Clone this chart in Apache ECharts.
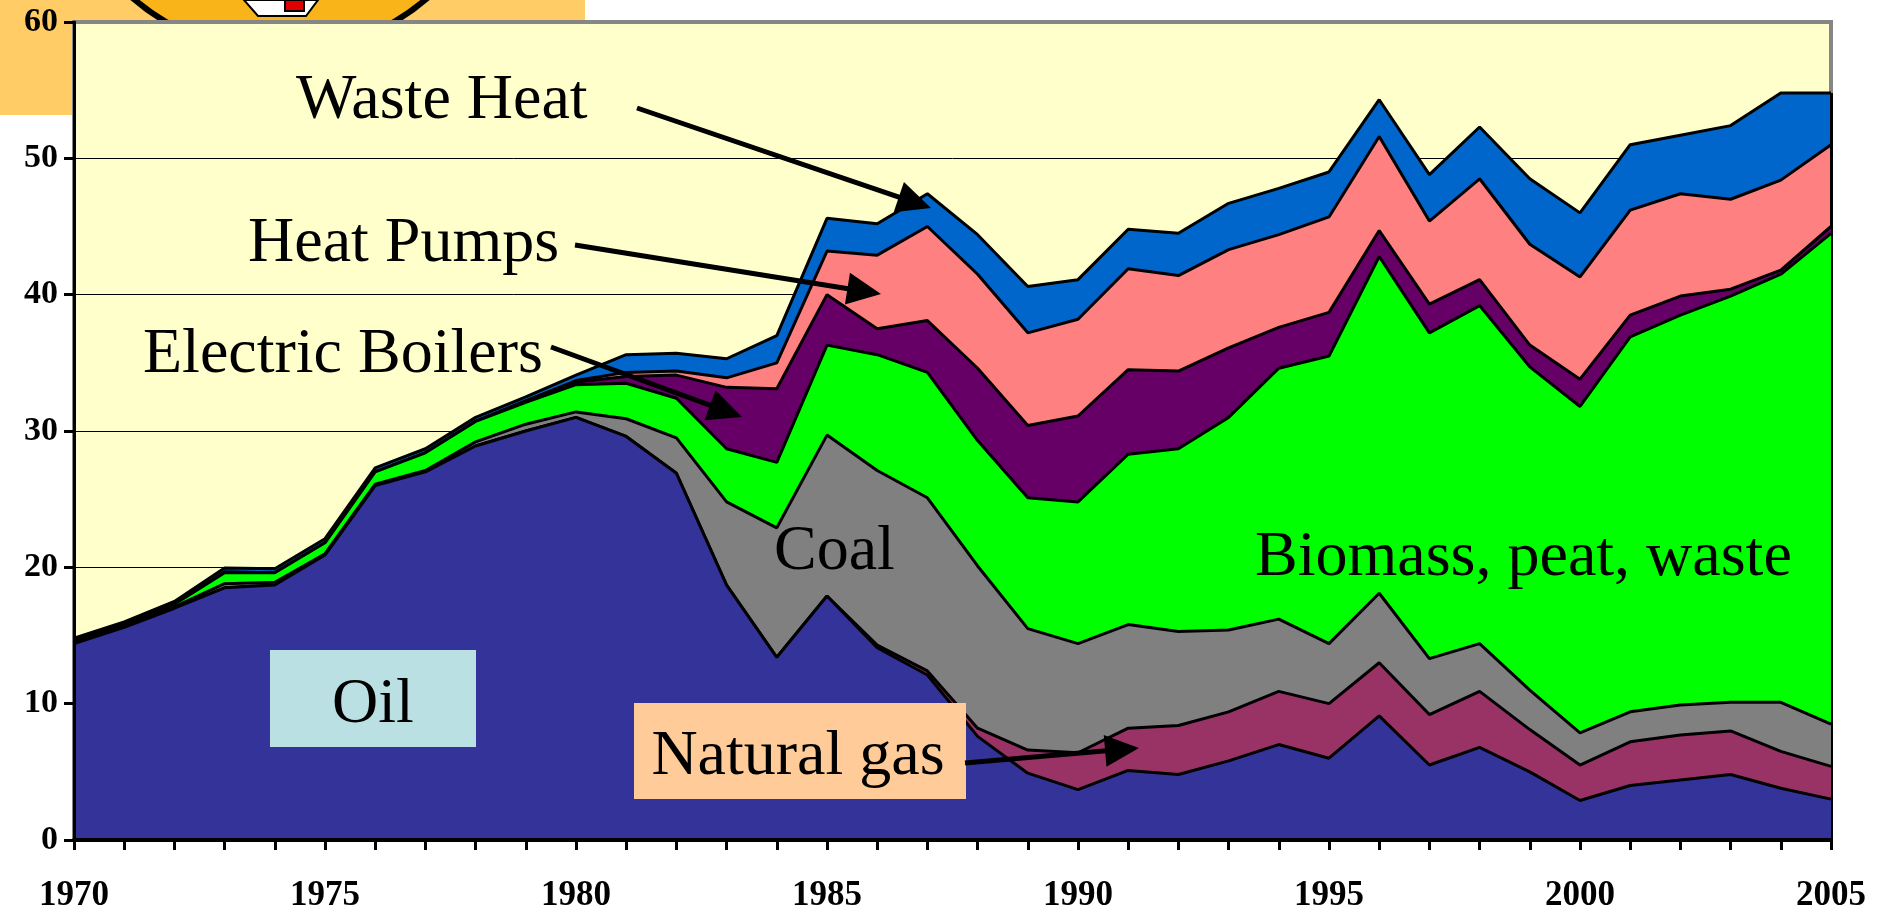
<!DOCTYPE html>
<html lang="en">
<head>
<meta charset="UTF-8">
<title>Heat supply by source 1970-2005</title>
<script src="https://cdn.jsdelivr.net/npm/echarts@6/dist/echarts.min.js"></script>
<style>
    html, body { margin: 0; padding: 0; background: #fff; }
    #chart { width: 1883px; height: 912px; }
</style>
</head>
<body>
<div id="chart"></div>
<script>
// categories
var years = ['1970','1971','1972','1973','1974','1975','1976','1977','1978','1979',
             '1980','1981','1982','1983','1984','1985','1986','1987','1988','1989',
             '1990','1991','1992','1993','1994','1995','1996','1997','1998','1999',
             '2000','2001','2002','2003','2004','2005'];

// series values (stacked, bottom to top)
var oil       = [14.4,15.6,17.0,18.5,18.7,20.9,26.0,27.0,28.9,30.0,31.0,29.6,26.9,18.7,13.4,17.9,14.1,12.1,7.6,4.9,3.7,5.1,4.8,5.8,7.0,6.0,9.1,5.5,6.8,5.0,2.9,4.0,4.4,4.8,3.8,3.0];
var naturalGas= [0,0,0,0,0,0,0,0,0,0,0,0,0,0,0,0,0.2,0.3,0.6,1.7,2.7,3.1,3.6,3.6,3.9,4.0,3.9,3.7,4.1,3.1,2.6,3.2,3.3,3.2,2.7,2.4];
var coal      = [0.1,0.1,0.1,0.3,0.2,0.1,0.1,0.1,0.3,0.5,0.4,1.3,2.6,6.1,9.5,11.8,12.8,12.7,11.9,8.9,8.0,7.6,6.9,6.0,5.3,4.4,5.1,4.1,3.5,2.9,2.35,2.2,2.2,2.1,3.6,3.1];
var biomass   = [0.1,0.1,0.2,0.8,0.7,0.8,0.9,1.3,1.5,1.6,2.0,2.6,2.9,3.9,4.8,6.6,8.5,9.2,9.2,9.6,10.4,12.5,13.4,15.6,18.4,21.1,24.7,23.9,24.8,23.7,23.95,27.5,28.6,29.8,31.4,36.0];
var elBoilers = [0,0,0,0.05,0,0,0,0,0,0.1,0.2,0.5,1.7,4.5,5.4,3.7,1.9,3.8,5.3,5.3,6.3,6.2,5.7,5.1,3.0,3.2,1.9,2.1,1.9,1.6,2.0,1.6,1.4,0.5,0.3,0.5];
var heatPumps = [0,0,0,0,0,0,0,0,0,0,0.1,0.3,0.3,0.7,1.9,3.2,5.4,6.9,6.9,6.8,7.1,7.4,7.0,7.2,6.8,7.0,6.9,6.1,7.4,7.4,7.5,7.7,7.5,6.6,6.6,6.0];
var wasteHeat = [0.2,0.2,0.2,0.3,0.3,0.3,0.3,0.3,0.3,0.3,0.4,1.3,1.3,1.4,2.0,2.4,2.3,2.4,2.9,3.4,2.9,2.9,3.1,3.4,3.4,3.3,2.7,3.4,3.8,4.8,4.7,4.8,4.3,5.4,6.4,3.8];

var seriesList = [
    {name: 'Oil', data: oil, color: '#333399'},
    {name: 'Natural gas', data: naturalGas, color: '#993366'},
    {name: 'Coal', data: coal, color: '#808080'},
    {name: 'Biomass, peat, waste', data: biomass, color: '#00FF00'},
    {name: 'Electric Boilers', data: elBoilers, color: '#660066'},
    {name: 'Heat Pumps', data: heatPumps, color: '#FF8080'},
    {name: 'Waste Heat', data: wasteHeat, color: '#0066CC'}
];

var serif = '"Liberation Serif", "Times New Roman", serif';

function arrow(x1, y1, x2, y2) {
    var dx = x2 - x1, dy = y2 - y1, len = Math.sqrt(dx * dx + dy * dy);
    var ux = dx / len, uy = dy / len, hl = 34, hw = 16;
    var bx = x2 - ux * hl, by = y2 - uy * hl;
    return [
        {type: 'line', z: 100, shape: {x1: x1, y1: y1, x2: bx + ux * 4, y2: by + uy * 4},
         style: {stroke: '#000', lineWidth: 5}},
        {type: 'polygon', z: 100,
         shape: {points: [[x2, y2], [bx - uy * hw, by + ux * hw], [bx + uy * hw, by - ux * hw]]},
         style: {fill: '#000'}}
    ];
}

function label(text, x, y, align) {
    return {type: 'text', z: 100,
        style: {text: text, x: x, y: y, font: '64px ' + serif, fill: '#000',
                align: align || 'left', verticalAlign: 'middle',
                textAlign: align || 'left', textVerticalAlign: 'middle'}};
}

window.onload = function () {
    var chart = echarts.init(document.getElementById('chart'));

    var last = years.length - 1;
    var total2005 = 0;
    seriesList.forEach(function (s) { total2005 += s.data[last]; });

    var series = seriesList.map(function (s, i) {
        var item = {
            name: s.name,
            type: 'line',
            stack: 'all',
            data: s.data,
            z: 9 - i,
            symbol: 'none',
            smooth: false,
            lineStyle: {color: '#000', width: 3},
            areaStyle: {color: s.color, opacity: 1},
            itemStyle: {color: s.color}
        };
        if (i === 0) {
            item.markLine = {
                silent: true, symbol: 'none', animation: false,
                label: {show: false},
                lineStyle: {color: '#000', width: 3, type: 'solid'},
                data: [[{coord: [years[last], 0]}, {coord: [years[last], total2005]}]]
            };
        }
        return item;
    });

    var graphics = [
        // clip-art header behind the plot
        {type: 'rect', z: -20, shape: {x: 0, y: 0, width: 585, height: 115}, style: {fill: '#FFCC66'}},
        {type: 'circle', z: -19, shape: {cx: 280, cy: -172, r: 225},
         style: {fill: '#F8B418', stroke: '#000', lineWidth: 6}},
        {type: 'polygon', z: -18, shape: {points: [[244, 0], [318, 0], [306, 16], [258, 16]]},
         style: {fill: '#fff', stroke: '#000', lineWidth: 2}},
        {type: 'rect', z: -17, shape: {x: 285, y: 0, width: 19, height: 11}, style: {fill: '#E00000', stroke: '#000', lineWidth: 2}},
        // boxed labels
        {type: 'rect', z: 90, shape: {x: 270, y: 650, width: 206, height: 97}, style: {fill: '#BBE0E3'}},
        {type: 'rect', z: 90, shape: {x: 634, y: 703, width: 332, height: 96}, style: {fill: '#FFCC99'}},
        label('Oil', 373, 705, 'center'),
        label('Natural gas', 798, 757, 'center'),
        label('Waste Heat', 296, 101),
        label('Heat Pumps', 248, 244),
        label('Electric Boilers', 143, 355),
        label('Coal', 774, 552),
        label('Biomass, peat, waste', 1255, 558)
    ];
    graphics = graphics.concat(arrow(637, 108, 931, 208), arrow(575, 245, 881, 294),
        arrow(551, 347, 742, 417), arrow(965, 763, 1139, 748));

    var options = {
        animation: false,
        backgroundColor: '#fff',
        grid: {
            left: 74, right: 52, top: 22, bottom: 72,
            show: true, backgroundColor: '#FFFFCC',
            borderColor: '#868686', borderWidth: 4,
            outerBoundsMode: 'none', containLabel: false
        },
        xAxis: {
            type: 'category',
            data: years,
            boundaryGap: false,
            z: 10,
            axisLine: {show: true, lineStyle: {color: '#000', width: 4}},
            axisTick: {show: true, interval: 0, length: 10, inside: false, lineStyle: {color: '#000', width: 3}},
            axisLabel: {interval: 4, margin: 38, color: '#000', fontFamily: serif, fontWeight: 'bold', fontSize: 35},
            splitLine: {show: false}
        },
        yAxis: [{
            type: 'value', min: 0, max: 60, interval: 10,
            z: 10,
            axisLine: {show: true, lineStyle: {color: '#000', width: 3}},
            axisTick: {show: true, length: 10, inside: false, lineStyle: {color: '#000', width: 3}},
            axisLabel: {margin: 16, color: '#000', fontFamily: serif, fontWeight: 'bold', fontSize: 34},
            splitLine: {show: false}
        }, {
            type: 'value', min: 0, max: 60, interval: 10, position: 'left',
            z: 0,
            axisLine: {show: false}, axisTick: {show: false}, axisLabel: {show: false},
            splitLine: {show: true, showMaxLine: false, lineStyle: {color: '#000', width: 1}}
        }],
        series: series,
        graphic: graphics
    };

    chart.setOption(options);
};
</script>
</body>
</html>
